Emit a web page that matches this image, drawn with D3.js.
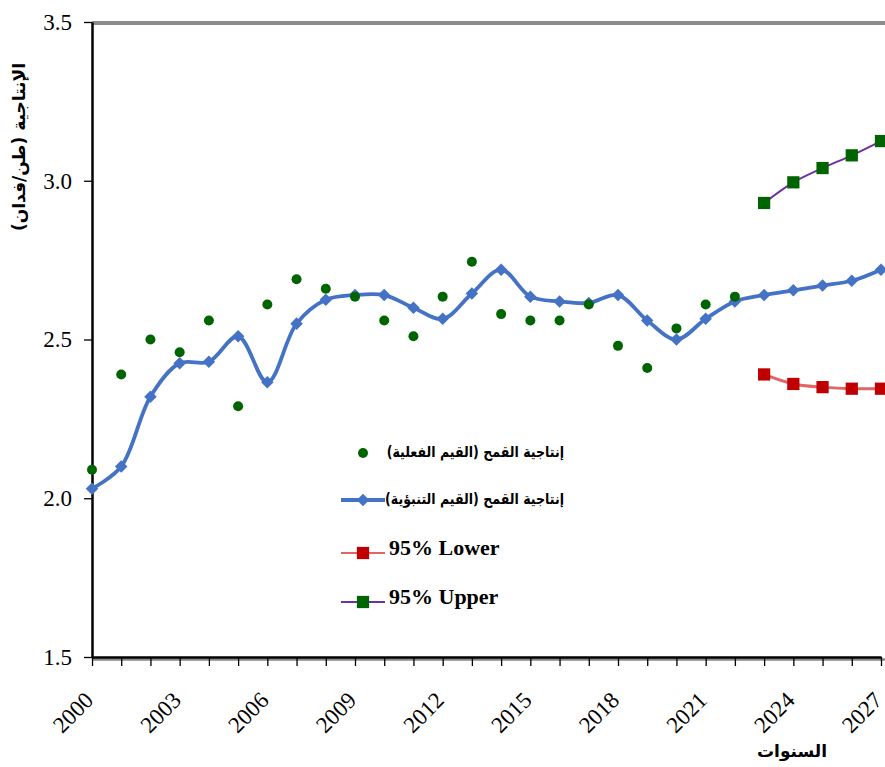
<!DOCTYPE html>
<html><head><meta charset="utf-8">
<script src="https://cdn.jsdelivr.net/npm/d3@7"></script>
<style>body{margin:0;background:#fff}svg{display:block}</style>
</head><body>
<svg id="c" width="885" height="767"></svg>
<script>
const years = d3.range(2000, 2028);
const actualYears = d3.range(2000, 2023);
const actualValues = [2.09,2.39,2.50,2.46,2.56,2.29,2.61,2.69,2.66,2.635,2.56,2.51,2.635,2.745,2.58,2.56,2.56,2.61,2.48,2.41,2.535,2.61,2.635];
const predictedValues = [2.03,2.10,2.32,2.425,2.43,2.51,2.365,2.55,2.625,2.64,2.64,2.60,2.565,2.645,2.72,2.635,2.62,2.615,2.64,2.56,2.50,2.565,2.62,2.64,2.655,2.67,2.685,2.72];
const boundYears = [2023,2024,2025,2026,2027];
const lowerValues = [2.39,2.36,2.35,2.345,2.345];
const upperValues = [2.93,2.995,3.04,3.08,3.125];
const yTicks = [1.5,2.0,2.5,3.0,3.5];
const xLabelYears = [2000,2003,2006,2009,2012,2015,2018,2021,2024,2027];
const legendLabels = ["إنتاجية القمح (القيم الفعلية)","إنتاجية القمح (القيم التنبؤية)","95% Lower","95% Upper"];
const yTitle = "الإنتاجية (طن/فدان)";
const xTitle = "السنوات";

const serif = "'Liberation Serif', 'Times New Roman', serif";
const svg = d3.select("#c");
const x = d3.scaleLinear().domain([2000,2027]).range([92,881]);
const y = d3.scaleLinear().domain([1.5,3.5]).range([657,22]);

// top border
svg.append("line").attr("x1",92).attr("x2",885).attr("y1",23).attr("y2",23)
  .attr("stroke","#8c8c8c").attr("stroke-width",4);

// y axis
const ya = svg.append("g").attr("transform","translate(92,0)")
  .call(d3.axisLeft(y).tickValues(yTicks).tickFormat(d3.format(".1f")).tickSize(8).tickSizeOuter(0).tickPadding(12));
ya.attr("font-family", serif).attr("font-size", 23);
ya.select(".domain").attr("stroke","#000").attr("stroke-width",2.5);
ya.selectAll(".tick line").attr("stroke","#000").attr("stroke-width",1.3);
ya.selectAll("text").style("font-family",serif).style("font-size","23px").attr("fill","#000");

// x axis shadow + axis
svg.append("line").attr("x1",92).attr("x2",885).attr("y1",659.5).attr("y2",659.5).attr("stroke","#888").attr("stroke-width",2.5);
const xa = svg.append("g").attr("transform","translate(0,657)")
  .call(d3.axisBottom(x).tickValues(years).tickFormat("").tickSize(9).tickSizeOuter(0));
xa.select(".domain").attr("stroke","#000").attr("stroke-width",2.5);
xa.selectAll(".tick line").attr("stroke","#000").attr("stroke-width",1.3);

svg.append("g").selectAll("text").data(xLabelYears).join("text")
  .attr("transform", d => `translate(${x(d)-1},${698}) rotate(-45)`)
  .attr("text-anchor","end").attr("dominant-baseline","middle")
  .style("font-family",serif).style("font-size","23px")
  .text(d => d);

// axis titles
svg.append("text").attr("transform","translate(20,147) rotate(-90)")
  .attr("text-anchor","middle").attr("dominant-baseline","middle")
  .attr("font-family","DejaVu Sans").attr("font-weight","bold").attr("font-size",17)
  .attr("direction","rtl").text(yTitle);
svg.append("text").attr("x",792).attr("y",757).attr("text-anchor","middle")
  .attr("font-family","DejaVu Sans").attr("font-weight","bold").attr("font-size",17)
  .attr("direction","rtl").text(xTitle);

const curve = d3.curveCatmullRom.alpha(0.5);

// bounds
const bLine = d3.line().x((d,i)=>x(boundYears[i])).y(d=>y(d)).curve(curve);
svg.append("path").attr("d",bLine(lowerValues)).attr("fill","none").attr("stroke","#e06666").attr("stroke-width",3);
svg.append("path").attr("d",bLine(upperValues)).attr("fill","none").attr("stroke","#7030a0").attr("stroke-width",2);

// predicted line
const pLine = d3.line().x((d,i)=>x(years[i])).y(d=>y(d)).curve(curve);
svg.append("path").attr("d",pLine(predictedValues)).attr("fill","none").attr("stroke","#4472c4").attr("stroke-width",3.8);

const diamond = d3.symbol().type(d3.symbolDiamond2).size(100);
const square = d3.symbol().type(d3.symbolSquare).size(150);

svg.append("g").selectAll("path").data(predictedValues).join("path")
  .attr("d",diamond).attr("transform",(d,i)=>`translate(${x(years[i])},${y(d)})`).attr("fill","#4472c4");

svg.append("g").selectAll("circle").data(actualValues).join("circle")
  .attr("cx",(d,i)=>x(actualYears[i])).attr("cy",d=>y(d)).attr("r",5).attr("fill","#006400");

svg.append("g").selectAll("path").data(lowerValues).join("path")
  .attr("d",square).attr("transform",(d,i)=>`translate(${x(boundYears[i])},${y(d)})`).attr("fill","#c00000");
svg.append("g").selectAll("path").data(upperValues).join("path")
  .attr("d",square).attr("transform",(d,i)=>`translate(${x(boundYears[i])},${y(d)})`).attr("fill","#006400");

// legend
const lg = svg.append("g");
const rows = [453,500,553,602];
function arLabel(txt, yy){
  lg.append("g").attr("transform",`translate(564,${yy}) scale(0.84,1)`)
    .append("text").attr("x",0).attr("y",0).attr("text-anchor","start").attr("direction","rtl")
    .attr("dominant-baseline","middle").attr("font-family","DejaVu Sans").attr("font-weight","bold")
    .attr("font-size",15).text(txt);
}
// 1 dot
lg.append("circle").attr("cx",363).attr("cy",rows[0]).attr("r",5).attr("fill","#006400");
arLabel(legendLabels[0], rows[0]);
// 2 line diamond
lg.append("line").attr("x1",341).attr("x2",385).attr("y1",rows[1]).attr("y2",rows[1]).attr("stroke","#4472c4").attr("stroke-width",3.8);
lg.append("path").attr("d",diamond).attr("transform",`translate(363,${rows[1]})`).attr("fill","#4472c4");
arLabel(legendLabels[1], rows[1]);
// 3 lower
lg.append("line").attr("x1",341).attr("x2",385).attr("y1",rows[2]).attr("y2",rows[2]).attr("stroke","#e06666").attr("stroke-width",2);
lg.append("path").attr("d",square).attr("transform",`translate(363,${rows[2]})`).attr("fill","#c00000");
lg.append("text").attr("x",389).attr("y",rows[2]-3).attr("dominant-baseline","middle")
  .style("font-family",serif).attr("font-weight","bold").attr("font-size",22).text(legendLabels[2]);
// 4 upper
lg.append("line").attr("x1",341).attr("x2",385).attr("y1",rows[3]).attr("y2",rows[3]).attr("stroke","#7030a0").attr("stroke-width",2);
lg.append("path").attr("d",square).attr("transform",`translate(363,${rows[3]})`).attr("fill","#006400");
lg.append("text").attr("x",389).attr("y",rows[3]-3).attr("dominant-baseline","middle")
  .style("font-family",serif).attr("font-weight","bold").attr("font-size",22).text(legendLabels[3]);
</script>
</body></html>
